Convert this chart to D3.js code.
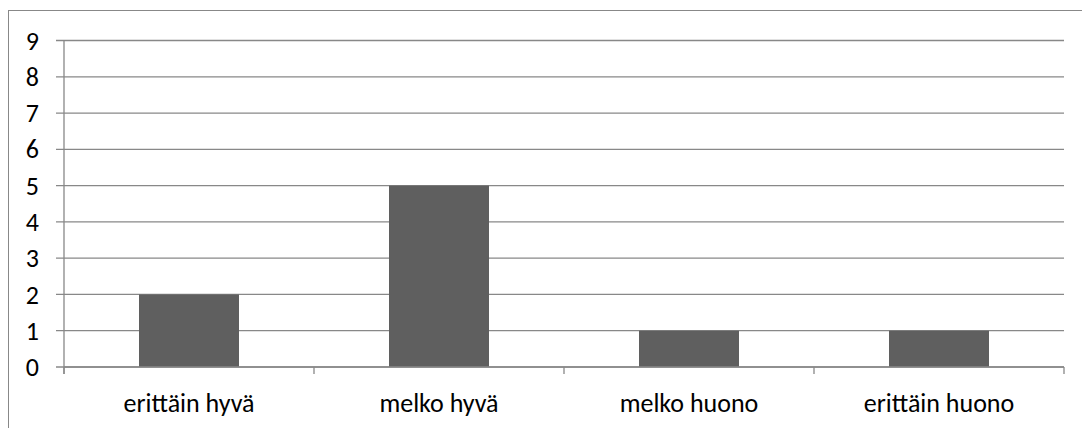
<!DOCTYPE html>
<html><head><meta charset="utf-8">
<script src="https://cdn.jsdelivr.net/npm/d3@7"></script>
<style>body{margin:0;background:#fff}svg{display:block}</style>
</head><body>
<script>
const categories = ["erittäin hyvä", "melko hyvä", "melko huono", "erittäin huono"];
const values = [2, 5, 1, 1];
const yTicks = [0,1,2,3,4,5,6,7,8,9];

const W = 1082, H = 428;
const m = {left: 64, right: 1064, top: 40.5, bottom: 367};
const svg = d3.select("body").append("svg").attr("width", W).attr("height", H);
const font = "Carlito, Calibri, 'Open Sans', sans-serif";
const fs = 26;

svg.append("rect").attr("x", 8.5).attr("y", 10.5).attr("width", 1090).attr("height", 440)
  .attr("fill", "none").attr("stroke", "#888").attr("stroke-width", 1);

const x = d3.scaleBand().domain(categories).range([m.left, m.right]).padding(0);
const y = d3.scaleLinear().domain([0, 9]).range([m.bottom, m.top]);

// gridlines
svg.append("g").selectAll("line").data(yTicks).join("line")
  .attr("x1", m.left - 8).attr("x2", m.right)
  .attr("y1", d => y(d)).attr("y2", d => y(d))
  .attr("stroke", "#888").attr("stroke-width", 1.3);

// bars
const bw = x.bandwidth() * 0.4;
svg.append("g").selectAll("rect").data(values).join("rect")
  .attr("x", (d, i) => x(categories[i]) + (x.bandwidth() - bw) / 2)
  .attr("width", bw)
  .attr("y", d => y(d)).attr("height", d => y(0) - y(d))
  .attr("fill", "#5f5f5f");

// y axis line
svg.append("line").attr("x1", m.left).attr("x2", m.left).attr("y1", y(9)).attr("y2", y(0) + 7)
  .attr("stroke", "#888").attr("stroke-width", 1.3);
// x axis line
svg.append("line").attr("x1", m.left).attr("x2", m.right).attr("y1", y(0)).attr("y2", y(0))
  .attr("stroke", "#888").attr("stroke-width", 1.3);
// category ticks
const bounds = categories.map(c => x(c)).concat([m.right]);
svg.append("g").selectAll("line").data(bounds).join("line")
  .attr("x1", d => d).attr("x2", d => d).attr("y1", y(0)).attr("y2", y(0) + 7)
  .attr("stroke", "#888").attr("stroke-width", 1.3);

// y labels
svg.append("g").selectAll("text").data(yTicks).join("text")
  .attr("x", 39).attr("y", d => y(d)).attr("dy", "0.35em")
  .attr("text-anchor", "end").attr("font-family", font).attr("font-size", fs)
  .attr("fill", "#000").text(d => d);

// x labels
svg.append("g").selectAll("text").data(categories).join("text")
  .attr("x", d => x(d) + x.bandwidth() / 2).attr("y", 403).attr("dy", "0.35em")
  .attr("text-anchor", "middle").attr("font-family", font).attr("font-size", fs)
  .attr("fill", "#000").text(d => d);
</script>
</body></html>
